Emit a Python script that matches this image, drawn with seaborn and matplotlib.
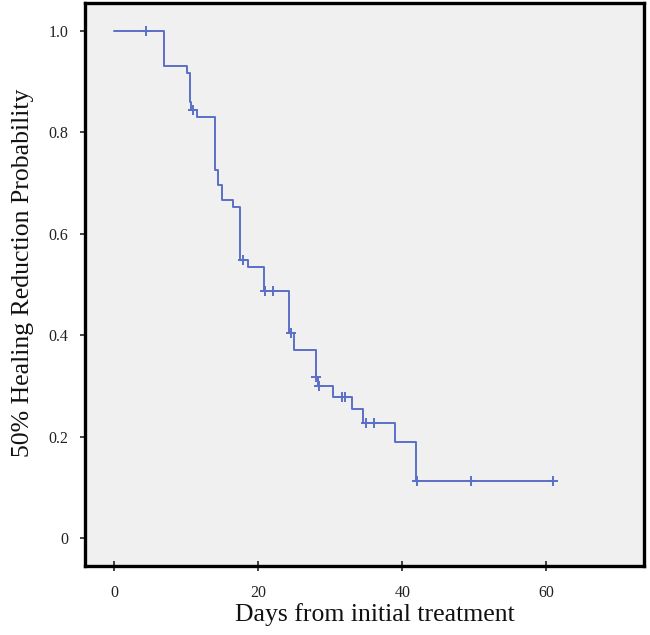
import numpy as np
import pandas as pd
import seaborn as sns
import matplotlib.pyplot as plt

# Kaplan-Meier style step curve
step_days = [0, 6.9, 10.1, 10.5, 10.7, 11.5, 14.0, 14.4, 15.0, 16.5, 17.5, 18.6,
             20.8, 24.3, 25.0, 28.0, 28.3, 30.4, 33.0, 34.5, 39.0, 41.9, 60.9]
step_prob = [1.0, 0.931, 0.917, 0.860, 0.844, 0.830, 0.726, 0.696, 0.667, 0.653,
             0.548, 0.534, 0.487, 0.404, 0.371, 0.318, 0.300, 0.278, 0.254, 0.227,
             0.189, 0.112, 0.112]

# censored observations (+ marks)
cens_days = [4.5, 11.0, 17.9, 21.0, 22.1, 24.5, 28.1, 28.5, 31.6, 32.0, 35.0, 36.1,
             42.0, 49.5, 60.9]
cens_prob = [1.0, 0.844, 0.548, 0.487, 0.487, 0.404, 0.318, 0.300, 0.278, 0.278,
             0.227, 0.227, 0.112, 0.112, 0.112]

x_ticks = [0, 20, 40, 60]
y_ticks = [0, 0.2, 0.4, 0.6, 0.8, 1.0]
y_tick_labels = ['0', '0.2', '0.4', '0.6', '0.8', '1.0']

LINE_COLOR = '#5a6fc6'

sns.set_style('white')
plt.rcParams['font.family'] = ['Liberation Serif', 'DejaVu Serif']

steps = pd.DataFrame({'days': step_days, 'prob': step_prob})
cens = pd.DataFrame({'days': cens_days, 'prob': cens_prob})

fig = plt.figure(figsize=(6.5, 6.35), dpi=100)
ax = fig.add_axes([0.1315, 0.1079, 0.86, 0.8866])
ax.set_facecolor('#f0f0f0')

sns.lineplot(data=steps, x='days', y='prob', ax=ax, color=LINE_COLOR, lw=1.4,
             drawstyle='steps-post', estimator=None, sort=False)
sns.scatterplot(data=cens, x='days', y='prob', ax=ax, color=LINE_COLOR, marker='+',
                s=55, linewidth=1.4, zorder=3)

ax.set_xlim(-3.95, 73.6)
ax.set_ylim(-0.056, 1.054)
ax.set_xticks(x_ticks)
ax.set_yticks(y_ticks)
ax.set_yticklabels(y_tick_labels)

for side in ['left', 'right', 'top', 'bottom']:
    ax.spines[side].set_color('black')
    ax.spines[side].set_linewidth(2.4)
    ax.spines[side].set_visible(True)

ax.tick_params(axis='y', direction='out', length=3.5, width=1.2, pad=9,
               labelsize=11.5, colors='#222222', left=True)
ax.tick_params(axis='x', direction='inout', length=7, width=1.2, pad=10,
               labelsize=11.5, colors='#222222', bottom=True)

ax.set_xlabel('Days from initial treatment', fontsize=18.5, color='#111111')
ax.set_ylabel('50% Healing Reduction Probability', fontsize=18.5, color='#111111')
ax.xaxis.set_label_coords(0.518, -0.065)
ax.yaxis.set_label_coords(-0.092, 0.521)

fig.savefig('out.png', dpi=100, facecolor='white')
